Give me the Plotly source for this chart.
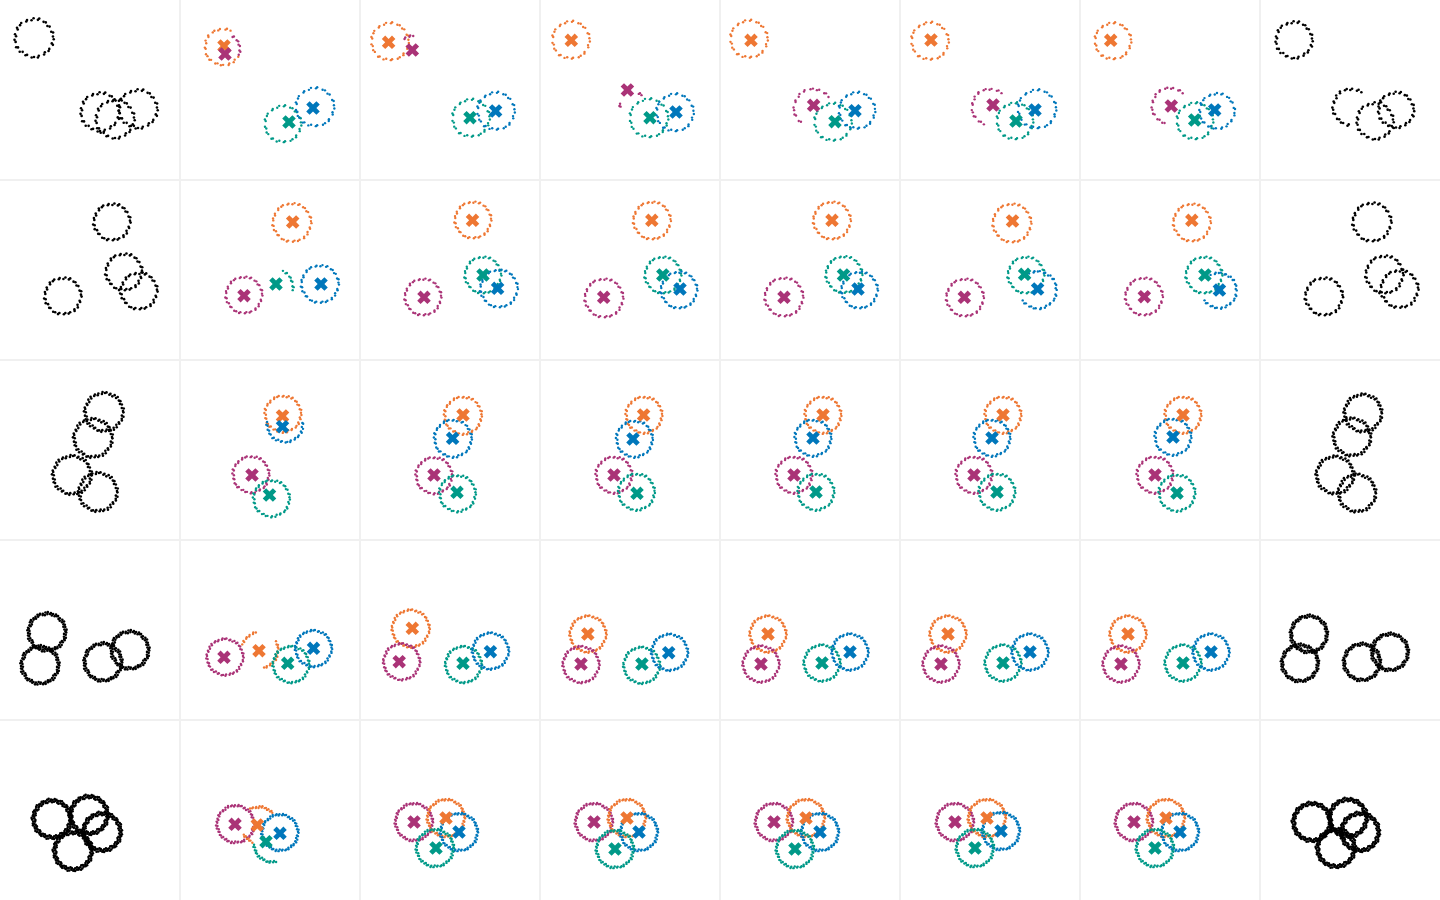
import math
import plotly.graph_objects as go
from plotly.subplots import make_subplots

COLORS = {"O": "#EE7733", "M": "#AA3377", "T": "#009988", "B": "#0077BB", "K": "#000000"}

# visible points per full ring and ring thickness, per row (black panels / coloured panels)
ROW_POINTS_BLACK = [38, 42, 60, 90, 130]
ROW_POINTS_COLOR = [34, 42, 48, 58, 70]
ROW_NOISE_BLACK = [1.1, 1.0, 1.3, 1.5, 1.9]
ROW_NOISE_COLOR = [0.8, 0.8, 0.9, 0.9, 1.0]

# arcs: (col, cluster, cx, cy, r, a0, a1)   panel coords 0..180, y downwards
ROW1_ARCS = [
    (1, "K", 34, 38, 19, 0, 360), (1, "K", 100, 112, 19, 0, 360), (1, "K", 115, 119, 19, 0, 360), (1, "K", 138, 109, 19, 0, 360),
    (2, "O", 43, 47, 18, 60, 330), (2, "M", 46, 49, 14, -30, 70), (2, "T", 103, 124, 18, 0, 360), (2, "B", 135, 107, 19, 0, 360),
    (3, "O", 30, 41.5, 18.5, 0, 360), (3, "M", 52, 50, 14, 80, 130), (3, "T", 111, 118, 18.5, 0, 360), (3, "B", 136, 111, 18.5, 0, 360),
    (4, "O", 31, 40, 18.5, 0, 360), (4, "M", 93, 105, 13, 45, 70), (4, "M", 93, 105, 13, 170, 195), (4, "T", 109, 118, 19, 0, 360), (4, "B", 135, 112.5, 18.5, 0, 360),
    (5, "O", 29, 39, 18.5, 0, 360), (5, "M", 93, 108, 19, 30, 235), (5, "T", 113, 122, 18.5, 0, 360), (5, "B", 137, 110.5, 18, 0, 360),
    (6, "O", 30, 41, 18.5, 0, 360), (6, "M", 90, 107, 18, 45, 255), (6, "T", 115, 121, 18, 0, 360), (6, "B", 137, 109, 19, 0, 360),
    (7, "O", 33, 41, 18, 0, 360), (7, "M", 90, 106, 18, 40, 260), (7, "T", 115, 121, 18, 0, 360), (7, "B", 137, 111, 17.5, -160, 200),
    (8, "K", 34, 40, 18, 0, 360), (8, "K", 91, 107, 18, 50, 270), (8, "K", 115, 121, 18, 0, 360), (8, "K", 136, 110, 17.5, 0, 360),
]
ROW1_CENTROIDS = [
    (2, "O", 44, 46), (2, "M", 45, 54), (2, "T", 109, 122), (2, "B", 133, 108),
    (3, "O", 28.6, 42.3), (3, "M", 52.3, 50), (3, "T", 110, 117.7), (3, "B", 135.6, 111),
    (4, "O", 31.3, 40.3), (4, "M", 87.4, 90), (4, "T", 110, 117.7), (4, "B", 136, 112),
    (5, "O", 31, 40.3), (5, "M", 93.6, 105.3), (5, "T", 115, 121.7), (5, "B", 135, 110.7),
    (6, "O", 31, 40), (6, "M", 93, 105), (6, "T", 116, 121), (6, "B", 135, 110),
    (7, "O", 30.7, 40.3), (7, "M", 91.3, 106), (7, "T", 114.7, 120), (7, "B", 134.7, 110),
]

ROW2_ARCS = [
    (1, "K", 112, 42, 18, 0, 360), (1, "K", 63, 116, 18, 0, 360), (1, "K", 124, 92, 18, 0, 360), (1, "K", 139, 111, 18, 0, 360),
    (2, "O", 112, 42.5, 19, 0, 360), (2, "M", 64, 115, 18, 0, 360), (2, "T", 96, 107, 17, -15, 70), (2, "B", 140, 104, 18.5, 0, 360),
    (3, "O", 113, 40, 18, 0, 360), (3, "M", 63, 117, 18, 0, 360), (3, "T", 123, 95, 18, 0, 360), (3, "B", 139, 108.5, 18.5, 0, 360),
    (4, "O", 112, 40.5, 18.5, 0, 360), (4, "M", 64, 118, 19, 0, 360), (4, "T", 123, 95, 18, 0, 360), (4, "B", 139, 110, 18, 0, 360),
    (5, "O", 112, 40.5, 18.5, 0, 360), (5, "M", 64, 117, 19, 0, 360), (5, "T", 124, 94.5, 18, 0, 360), (5, "B", 139.5, 110, 18, 0, 360),
    (6, "O", 112, 43, 19, 0, 360), (6, "M", 65, 117.5, 18.5, 0, 360), (6, "T", 126, 95, 18, 0, 360), (6, "B", 138, 110, 18.5, -150, 120),
    (7, "O", 112, 42.5, 18.5, 0, 360), (7, "M", 64, 116.5, 18.5, 0, 360), (7, "T", 124, 95, 18, 0, 360), (7, "B", 139, 110.5, 17.5, -150, 120),
    (8, "K", 112, 42, 19, 0, 360), (8, "K", 64, 116.5, 18.5, 0, 360), (8, "K", 124.5, 94.5, 18.5, 0, 360), (8, "K", 139.5, 109, 18.5, 0, 360),
]
ROW2_CENTROIDS = [
    (2, "O", 112.7, 42), (2, "M", 64, 115.7), (2, "T", 96, 104), (2, "B", 141, 104),
    (3, "O", 112.5, 40.3), (3, "M", 64, 117.3), (3, "T", 123, 95), (3, "B", 137.6, 108.3),
    (4, "O", 111.8, 40.3), (4, "M", 63.7, 117.3), (4, "T", 122.8, 95), (4, "B", 140, 109),
    (5, "O", 112, 40.3), (5, "M", 64, 117.3), (5, "T", 123.5, 95), (5, "B", 138, 109),
    (6, "O", 112.5, 41), (6, "M", 64.3, 117.3), (6, "T", 124.6, 94.3), (6, "B", 137.6, 109),
    (7, "O", 111.8, 40.3), (7, "M", 64.3, 116.7), (7, "T", 124.9, 95), (7, "B", 139.4, 110),
]

ROW3_ARCS = [
    (1, "K", 104, 52, 19, 0, 360), (1, "K", 93, 78, 19, 0, 360), (1, "K", 72, 115, 19, 0, 360), (1, "K", 98, 132, 19, 0, 360),
    (2, "O", 103, 54, 18, 0, 360), (2, "B", 105, 64, 18, -190, 10), (2, "M", 71, 114.5, 18, 0, 360), (2, "T", 91.5, 138.5, 18, 0, 360),
    (3, "O", 103, 55.5, 18.5, 0, 360), (3, "B", 93, 78.5, 18.5, 0, 360), (3, "M", 74, 115.5, 18, 0, 360), (3, "T", 97.5, 133.5, 18, 0, 360),
    (4, "O", 104, 55, 18, 0, 360), (4, "B", 94.5, 79, 18, 0, 360), (4, "M", 74, 115, 18, 0, 360), (4, "T", 96.5, 132, 18, 0, 360),
    (5, "O", 103, 55, 18, 0, 360), (5, "B", 93, 78, 18, 0, 360), (5, "M", 74, 115, 18, 0, 360), (5, "T", 96, 132, 18, 0, 360),
    (6, "O", 103, 55, 18, 0, 360), (6, "B", 92, 78, 18, 0, 360), (6, "M", 74, 115, 18, 0, 360), (6, "T", 97, 132, 18, 0, 360),
    (7, "O", 103, 55, 18, 0, 360), (7, "B", 93, 77, 18, 0, 360), (7, "M", 75, 115, 18, 0, 360), (7, "T", 97, 133, 18, 0, 360),
    (8, "K", 103, 53, 18.5, 0, 360), (8, "K", 92, 77, 18.5, 0, 360), (8, "K", 75, 115, 18.5, 0, 360), (8, "K", 97, 133, 18.5, 0, 360),
]
ROW3_CENTROIDS = [
    (2, "O", 102.5, 56), (2, "B", 102.5, 66.7), (2, "M", 72, 115), (2, "T", 89.5, 135),
    (3, "O", 103, 55), (3, "B", 92.6, 78.3), (3, "M", 74, 115), (3, "T", 97, 132.3),
    (4, "O", 103.6, 55), (4, "B", 93, 79), (4, "M", 74, 115), (4, "T", 97, 133.3),
    (5, "O", 103, 55), (5, "B", 93, 78), (5, "M", 74, 115), (5, "T", 96, 132),
    (6, "O", 103, 55), (6, "B", 92, 78), (6, "M", 74, 115), (6, "T", 97, 132),
    (7, "O", 103, 55), (7, "B", 93, 77), (7, "M", 75, 115), (7, "T", 97, 133),
]

ROW4_ARCS = [
    (1, "K", 47, 92, 18.5, 0, 360), (1, "K", 40, 125, 18.5, 0, 360), (1, "K", 103, 122, 18.5, 0, 360), (1, "K", 130, 110, 18.5, 0, 360),
    (2, "M", 45, 117, 18, 0, 360), (2, "O", 80, 110, 18, 100, 165), (2, "O", 80, 110, 18, -80, 30), (2, "T", 111, 124.5, 18, 0, 360), (2, "B", 133.5, 108.5, 18, 0, 360),
    (3, "O", 50.7, 88.5, 18.5, 0, 360), (3, "M", 41.6, 121.7, 18, 0, 360), (3, "T", 103.5, 124.5, 18, 0, 360), (3, "B", 130.5, 111, 18, 0, 360),
    (4, "O", 48, 94, 18, 0, 360), (4, "M", 41, 124.5, 18, 0, 360), (4, "T", 101.7, 125.3, 18, 0, 360), (4, "B", 129.6, 112.3, 18, 0, 360),
    (5, "O", 48, 94, 18, 0, 360), (5, "M", 41, 124, 18, 0, 360), (5, "T", 102, 123, 18, 0, 360), (5, "B", 130, 112, 18, 0, 360),
    (6, "O", 48, 94, 18, 0, 360), (6, "M", 41, 124, 18, 0, 360), (6, "T", 103, 123, 18, 0, 360), (6, "B", 130, 112, 18, 0, 360),
    (7, "O", 48, 94, 18, 0, 360), (7, "M", 41, 124, 18, 0, 360), (7, "T", 103, 123, 18, 0, 360), (7, "B", 131, 112, 18, 0, 360),
    (8, "K", 49, 94, 18, 0, 360), (8, "K", 40, 123, 18, 0, 360), (8, "K", 102, 122, 18, 0, 360), (8, "K", 130, 112, 18, 0, 360),
]
ROW4_CENTROIDS = [
    (2, "M", 44, 117.3), (2, "O", 79, 110.7), (2, "T", 107.7, 123.3), (2, "B", 133.5, 108.3),
    (3, "O", 52.3, 88.3), (3, "M", 39.2, 121.7), (3, "T", 103, 123.3), (3, "B", 130.4, 111.7),
    (4, "O", 47.8, 94), (4, "M", 41, 124), (4, "T", 101.9, 124), (4, "B", 128.7, 112.7),
    (5, "O", 48, 94), (5, "M", 41, 124), (5, "T", 102, 123), (5, "B", 130, 112),
    (6, "O", 48, 94), (6, "M", 41, 124), (6, "T", 103, 123), (6, "B", 130, 112),
    (7, "O", 48, 94), (7, "M", 41, 124), (7, "T", 103, 123), (7, "B", 131, 112),
]

ROW5_ARCS = [
    (1, "K", 52, 99, 18.5, 0, 360), (1, "K", 89, 95, 18.5, 0, 360), (1, "K", 102, 112, 18.5, 0, 360), (1, "K", 73, 131, 18.5, 0, 360),
    (2, "M", 55.5, 104, 18.5, 0, 360), (2, "O", 79, 105, 18, 40, 120), (2, "O", 79, 105, 18, 210, 250), (2, "B", 100, 112.5, 18, 0, 360), (2, "T", 92, 124, 18, 180, 285),
    (3, "M", 54, 102, 18.5, 0, 360), (3, "O", 86, 98, 18.5, 0, 360), (3, "B", 99, 112, 18.5, 0, 360), (3, "T", 75, 128, 18.5, 0, 360),
    (4, "M", 54, 102, 18.5, 0, 360), (4, "O", 87, 98, 18.5, 0, 360), (4, "B", 99, 112, 18.5, 0, 360), (4, "T", 75, 129, 18.5, 0, 360),
    (5, "M", 54, 102, 18.5, 0, 360), (5, "O", 86, 98, 18.5, 0, 360), (5, "B", 100, 112, 18.5, 0, 360), (5, "T", 75, 129, 18.5, 0, 360),
    (6, "M", 55, 102, 18.5, 0, 360), (6, "O", 87, 98, 18.5, 0, 360), (6, "B", 101, 111, 18.5, 0, 360), (6, "T", 75, 128, 18.5, 0, 360),
    (7, "M", 54, 102, 18.5, 0, 360), (7, "O", 86, 98, 18.5, 0, 360), (7, "B", 100, 112, 18.5, 0, 360), (7, "T", 75, 128, 18.5, 0, 360),
    (8, "K", 52, 102, 18.5, 0, 360), (8, "K", 88, 98, 18.5, 0, 360), (8, "K", 100, 112, 18.5, 0, 360), (8, "K", 76, 128, 18.5, 0, 360),
]
ROW5_CENTROIDS = [
    (2, "M", 55, 104.3), (2, "O", 77.3, 105), (2, "B", 100, 113.3), (2, "T", 86, 121.7),
    (3, "M", 54, 102), (3, "O", 86, 98), (3, "B", 99, 112), (3, "T", 76, 128),
    (4, "M", 54, 102), (4, "O", 87, 98), (4, "B", 99, 112), (4, "T", 75, 129),
    (5, "M", 54, 102), (5, "O", 86, 98), (5, "B", 100, 112), (5, "T", 75, 129),
    (6, "M", 55, 102), (6, "O", 87, 98), (6, "B", 101, 111), (6, "T", 75, 128),
    (7, "M", 54, 102), (7, "O", 86, 98), (7, "B", 100, 112), (7, "T", 75, 128),
]

ROWS = [
    (ROW1_ARCS, ROW1_CENTROIDS),
    (ROW2_ARCS, ROW2_CENTROIDS),
    (ROW3_ARCS, ROW3_CENTROIDS),
    (ROW4_ARCS, ROW4_CENTROIDS),
    (ROW5_ARCS, ROW5_CENTROIDS),
]

# fixed thickness pattern used to spread ring points (styling, not data)
SPREAD = [0.0, 0.8, -0.6, 0.3, -0.9, 0.5, -0.2, 1.0, -0.4, 0.7, -1.0, 0.2, -0.7, 0.6]


def arc_points(cx, cy, r, a0, a1, per_ring, noise):
    n = max(3, int(round(per_ring * (a1 - a0) / 360.0)))
    step = (a1 - a0) / n
    xs, ys = [], []
    for i in range(n):
        a = a0 + step * (i + 0.5) + step * 0.4 * SPREAD[(i * 5) % len(SPREAD)]
        rr = r + noise * SPREAD[i % len(SPREAD)]
        t = math.radians(a)
        xs.append(cx + rr * math.cos(t))
        ys.append(cy - rr * math.sin(t))
    return xs, ys


fig = make_subplots(rows=5, cols=8, horizontal_spacing=0, vertical_spacing=0)

for ri, (arcs, cents) in enumerate(ROWS, start=1):
    groups = {}
    for col, cl, cx, cy, r, a0, a1 in arcs:
        if cl == "K":
            per_ring, noise = ROW_POINTS_BLACK[ri - 1], ROW_NOISE_BLACK[ri - 1]
        else:
            per_ring, noise = ROW_POINTS_COLOR[ri - 1], ROW_NOISE_COLOR[ri - 1]
        xs, ys = arc_points(cx, cy, r, a0, a1, per_ring, noise)
        g = groups.setdefault((col, cl), ([], []))
        g[0].extend(xs)
        g[1].extend(ys)
    for (col, cl), (xs, ys) in groups.items():
        fig.add_trace(go.Scatter(
            x=xs, y=ys, mode="markers",
            marker=dict(size=2.6 if cl == "K" else 2.4, color=COLORS[cl], line=dict(width=0)),
            hoverinfo="skip", showlegend=False), row=ri, col=col)
    for col, cl, x, y in cents:
        fig.add_trace(go.Scatter(
            x=[x], y=[y], mode="markers",
            marker=dict(symbol="x", size=12, color=COLORS[cl], line=dict(width=0)),
            hoverinfo="skip", showlegend=False), row=ri, col=col)

fig.update_xaxes(range=[0, 180], showgrid=False, zeroline=False, showticklabels=False,
                 ticks="", showline=True, mirror=True, linecolor="#f0f0f0", linewidth=1)
fig.update_yaxes(range=[180, 0], showgrid=False, zeroline=False, showticklabels=False,
                 ticks="", showline=True, mirror=True, linecolor="#f0f0f0", linewidth=1)

fig.update_layout(width=1440, height=900, margin=dict(l=0, r=0, t=0, b=0),
                  paper_bgcolor="white", plot_bgcolor="white", showlegend=False)

fig.write_html("out.html")
